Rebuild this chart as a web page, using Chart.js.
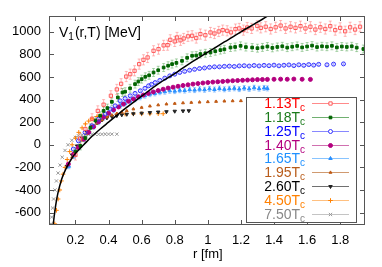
<!DOCTYPE html>
<html>
<head>
<meta charset="utf-8">
<script src="https://cdn.jsdelivr.net/npm/chart.js@4.4.0/dist/chart.umd.min.js"></script>
<style>
  html, body { margin: 0; padding: 0; background: #fff; }
</style>
</head>
<body>
<canvas id="chart" width="382" height="267"></canvas>
<script>
/* ================= DATA ================= */
const xTicks = [0.2, 0.4, 0.6, 0.8, 1.0, 1.2, 1.4, 1.6, 1.8];
const yTicks = [-600, -400, -200, 0, 200, 400, 600, 800, 1000];
const temps = ['1.13', '1.18', '1.25', '1.40', '1.65', '1.95', '2.60', '4.50', '7.50'];

const r113 = [0.20,0.228,0.26,0.30,0.335,0.37,0.414,0.45,0.476,0.507,0.531,0.557,0.585,0.611,0.636,0.672,0.702,0.733,0.757,0.773,0.80,0.814,0.835,0.854,0.88,0.905,0.93,0.955,0.985,1.016,1.04,1.066,1.09,1.117,1.14,1.167,1.19,1.215,1.238,1.265,1.299,1.32,1.35,1.38,1.41,1.44,1.47,1.50,1.53,1.56,1.59,1.62,1.65,1.68,1.71,1.74,1.77,1.80,1.83,1.86,1.89,1.92];
const v113 = [-90,55,140,230,300,355,434,490,540,604,625,655,714,752,773,832,847,880,882,929,915,950,925,941,960,965,945,980,970,994,985,1003,1015,1009,995,1024,1030,1015,1038,1030,1053,1035,1045,1025,1040,1055,1030,1045,1035,1050,1030,1045,1020,1040,1025,1050,1015,1035,1005,1040,1020,1045];

const r118 = [0.20,0.23,0.26,0.29,0.32,0.349,0.37,0.393,0.42,0.456,0.484,0.50,0.53,0.56,0.58,0.60,0.622,0.645,0.672,0.70,0.733,0.76,0.784,0.81,0.844,0.875,0.905,0.93,0.955,0.985,1.016,1.045,1.076,1.10,1.137,1.165,1.198,1.23,1.268,1.30,1.33,1.36,1.39,1.42,1.45,1.48,1.51,1.54,1.57,1.60,1.63,1.66,1.69,1.72,1.75,1.78,1.81,1.84,1.87,1.90,1.94];
const v118 = [-60,-10,60,150,215,257,300,325,380,419,463,470,500,537,560,581,602,615,640,660,684,700,714,725,743,770,788,790,803,810,817,828,838,845,861,866,876,865,861,855,862,870,858,866,872,860,868,875,862,870,878,865,872,868,876,862,870,866,872,860,848];

const r125 = [0.187,0.218,0.258,0.299,0.339,0.379,0.41,0.44,0.47,0.50,0.531,0.56,0.592,0.62,0.642,0.66,0.682,0.71,0.74,0.77,0.80,0.83,0.86,0.89,0.92,0.95,0.98,1.01,1.04,1.07,1.10,1.13,1.16,1.19,1.22,1.25,1.28,1.31,1.34,1.37,1.40,1.43,1.46,1.49,1.52,1.55,1.58,1.61,1.64,1.67,1.72,1.76,1.82];
const v125 = [-38,35,109,168,227,272,316,345,389,410,434,455,478,500,522,535,551,570,590,610,625,640,650,660,668,675,680,686,690,690,694,696,693,698,700,697,702,698,703,700,705,699,704,707,701,708,703,710,705,712,708,714,716];

const r140 = [0.157,0.19,0.218,0.25,0.28,0.31,0.34,0.37,0.40,0.43,0.46,0.49,0.52,0.55,0.58,0.61,0.64,0.67,0.70,0.73,0.76,0.79,0.82,0.85,0.88,0.91,0.94,0.97,1.00,1.03,1.06,1.09,1.12,1.15,1.18,1.21,1.24,1.27,1.30,1.33,1.36,1.40,1.44,1.48,1.52,1.57,1.62];
const v140 = [-171,-80,-24,50,110,160,205,245,280,310,335,360,385,405,425,440,455,468,480,492,502,510,518,525,531,537,542,547,551,555,558,561,564,567,569,571,573,575,577,578,579,580,581,580,582,580,579];

const r165 = [0.16,0.19,0.22,0.25,0.28,0.31,0.34,0.37,0.40,0.43,0.47,0.50,0.53,0.56,0.59,0.62,0.65,0.68,0.71,0.74,0.77,0.80,0.83,0.86,0.89,0.92,0.95,0.98,1.01,1.04,1.07,1.10,1.13,1.16,1.19,1.22,1.25,1.28,1.31,1.34,1.36];
const v165 = [-190,-100,-20,50,110,160,200,240,275,305,345,365,385,403,420,435,448,455,465,470,478,475,483,480,488,484,492,487,495,489,498,491,496,500,493,502,495,505,497,503,499];

const r195 = [0.18,0.21,0.24,0.27,0.30,0.33,0.36,0.39,0.42,0.45,0.48,0.51,0.55,0.60,0.65,0.70,0.75,0.80,0.85,0.90,0.95,1.00,1.05,1.10,1.15,1.20];
const v195 = [-110,-30,40,100,150,190,220,245,262,276,288,300,316,330,342,352,360,365,370,374,377,380,383,386,388,389];

const r260 = [0.15,0.18,0.21,0.24,0.27,0.30,0.33,0.36,0.39,0.42,0.45,0.48,0.51,0.55,0.60,0.65,0.70,0.75,0.80,0.85,0.885];
const v260 = [-190,-90,-10,60,115,160,195,220,238,250,258,265,270,275,280,285,290,293,297,300,301];

const r450 = [0.075,0.085,0.095,0.105,0.115,0.125,0.137,0.15,0.165,0.18,0.20,0.22,0.24,0.26,0.28,0.30,0.33,0.36,0.40,0.45,0.50,0.55,0.60,0.65,0.70,0.73];
const v450 = [-700,-580,-480,-400,-320,-260,-200,-130,-60,0,60,110,150,185,210,230,250,260,266,270,272,273,274,274,275,275];

const r750 = [0.052,0.056,0.062,0.068,0.076,0.085,0.095,0.107,0.12,0.137,0.155,0.178,0.20,0.218,0.24,0.26,0.28,0.30,0.32,0.34,0.36,0.38,0.40,0.42,0.45];
const v750 = [-700,-640,-560,-480,-400,-320,-250,-180,-110,-50,0,40,65,80,88,90,92,92,93,93,93,94,94,94,94];

// T=0 Cornell curve (black line)
const rFit = [0.062,0.07,0.08,0.09,0.10,0.12,0.14,0.16,0.18,0.20,0.25,0.30,0.35,0.40,0.50,0.60,0.70,0.80,0.90,1.00,1.10,1.20,1.30,1.40];
const vFit = [-750,-650,-540,-455,-390,-290,-220,-165,-115,-75,0,75,140,200,320,430,540,630,730,820,910,1000,1085,1175];

// error bar half-widths per series (MeV)
const errs = [45, 35, 10, 5, 22, 5, 0, 0, 0];

/* ================= STYLE ================= */
const FONT = '"Liberation Sans", Arial, Helvetica, sans-serif';
const seriesStyle = [
  { r: r113, v: v113, color: '#ff5a5a', fill: false, shape: 'rect', rad: 2.3, text: '#ff0000', line: '#ff8a8a', errColor: 'rgba(255,120,120,0.5)' },
  { r: r118, v: v118, color: '#006400', fill: true, shape: 'rect', rad: 1.9, text: '#1a7a1a', line: '#70b070', errColor: 'rgba(70,160,70,0.45)' },
  { r: r125, v: v125, color: '#3535ff', fill: false, shape: 'circle', rad: 2, text: '#0000ff', line: '#8888ff', errColor: 'rgba(80,80,255,0.35)' },
  { r: r140, v: v140, color: '#b4007f', fill: true, shape: 'circle', rad: 2, text: '#b4007f', line: '#d070b0', errColor: 'rgba(180,0,127,0.35)' },
  { r: r165, v: v165, color: '#2a90ff', fill: true, shape: 'triangle', rad: 2, text: '#1e90ff', line: '#88c4ff', errColor: 'rgba(60,150,255,0.5)' },
  { r: r195, v: v195, color: '#c05a14', fill: true, shape: 'triangle', rad: 1.6, text: '#b85c1a', line: '#d09a70', errColor: 'rgba(192,90,20,0.35)' },
  { r: r260, v: v260, color: '#222222', fill: true, shape: 'triangle', rot: 180, rad: 2, text: '#000000', line: '#707070', errColor: '#888' },
  { r: r450, v: v450, color: '#ff8000', fill: false, shape: 'cross', rad: 2.3, text: '#ff8000', line: '#ffc080', errColor: '#fc8' },
  { r: r750, v: v750, color: '#999999', fill: false, shape: 'crossRot', rad: 2.3, text: '#888888', line: '#c4c4c4', errColor: '#ccc' }
];

const pts = (rs, vs) => rs.map((x, i) => ({ x, y: vs[i] }));

const datasets = [{
  label: 'T=0',
  data: pts(rFit, vFit),
  showLine: true,
  borderColor: '#000',
  borderWidth: 1.5,
  pointRadius: 0,
  tension: 0.3,
  order: 0
}];
seriesStyle.forEach((s, i) => {
  datasets.push({
    label: temps[i] + 'Tc',
    data: pts(s.r, s.v),
    showLine: false,
    pointStyle: s.shape,
    pointRotation: s.rot || 0,
    pointRadius: s.rad,
    borderWidth: 1,
    borderColor: s.color,
    backgroundColor: s.fill ? s.color : 'rgba(0,0,0,0)',
    err: errs[i],
    errColor: s.errColor,
    order: 1
  });
});

/* ================= PLUGINS ================= */
const errorBars = {
  id: 'errorBars',
  beforeDatasetsDraw(chart) {
    const { ctx, chartArea: a, scales: { y } } = chart;
    ctx.save();
    ctx.beginPath();
    ctx.rect(a.left, a.top, a.right - a.left, a.bottom - a.top);
    ctx.clip();
    chart.data.datasets.forEach((ds, i) => {
      if (!ds.err) return;
      const meta = chart.getDatasetMeta(i);
      ctx.strokeStyle = ds.errColor;
      ctx.lineWidth = 1;
      meta.data.forEach((pt, j) => {
        const v = ds.data[j].y;
        const y1 = y.getPixelForValue(v - ds.err);
        const y2 = y.getPixelForValue(v + ds.err);
        ctx.beginPath();
        ctx.moveTo(pt.x, y1); ctx.lineTo(pt.x, y2);
        ctx.moveTo(pt.x - 1.5, y1); ctx.lineTo(pt.x + 1.5, y1);
        ctx.moveTo(pt.x - 1.5, y2); ctx.lineTo(pt.x + 1.5, y2);
        ctx.stroke();
      });
    });
    ctx.restore();
  }
};

const decor = {
  id: 'decor',
  afterDraw(chart) {
    const { ctx, chartArea: a, scales: { x, y } } = chart;
    ctx.save();

    // frame + inward ticks on all sides
    ctx.strokeStyle = '#555';
    ctx.lineWidth = 1;
    ctx.strokeRect(a.left + 0.5, a.top + 0.5, a.right - a.left - 1, a.bottom - a.top - 1);
    ctx.beginPath();
    xTicks.forEach(v => {
      const px = Math.round(x.getPixelForValue(v)) + 0.5;
      ctx.moveTo(px, a.bottom); ctx.lineTo(px, a.bottom - 5);
      ctx.moveTo(px, a.top); ctx.lineTo(px, a.top + 5);
    });
    yTicks.forEach(v => {
      const py = Math.round(y.getPixelForValue(v)) + 0.5;
      ctx.moveTo(a.left, py); ctx.lineTo(a.left + 5, py);
      ctx.moveTo(a.right, py); ctx.lineTo(a.right - 5, py);
    });
    ctx.stroke();

    // title inside the plot: V_1(r,T) [MeV]
    ctx.fillStyle = '#000';
    ctx.textBaseline = 'alphabetic';
    ctx.textAlign = 'left';
    let tx = a.left + 10;
    const ty = a.top + 21;
    ctx.font = '14px ' + FONT;
    ctx.fillText('V', tx, ty);
    tx += ctx.measureText('V').width;
    ctx.font = '10px ' + FONT;
    ctx.fillText('1', tx, ty + 3);
    tx += ctx.measureText('1').width + 1;
    ctx.font = '14px ' + FONT;
    ctx.fillText('(r,T) [MeV]', tx, ty);

    // x axis title
    ctx.font = '13px ' + FONT;
    ctx.textAlign = 'center';
    ctx.fillText('r [fm]', x.getPixelForValue(1.0), 258);

    // legend box
    const bx = 246, by = 97, bw = 110, bh = 125;
    ctx.fillStyle = '#fff';
    ctx.fillRect(bx, by, bw, bh);
    ctx.strokeStyle = '#555';
    ctx.strokeRect(bx + 0.5, by + 0.5, bw, bh);
    seriesStyle.forEach((s, i) => {
      const cy = 103 + i * 13.85;
      ctx.font = '14px ' + FONT;
      ctx.textAlign = 'right';
      ctx.fillStyle = s.text;
      ctx.fillText(temps[i] + 'T', 300, cy + 5);
      ctx.font = '10px ' + FONT;
      ctx.textAlign = 'left';
      ctx.fillText('c', 300, cy + 8);
      ctx.strokeStyle = s.line;
      ctx.lineWidth = 1;
      ctx.beginPath();
      ctx.moveTo(312, Math.round(cy) + 0.5);
      ctx.lineTo(349, Math.round(cy) + 0.5);
      ctx.stroke();
      ctx.strokeStyle = s.color;
      ctx.fillStyle = s.fill ? s.color : '#fff';
      Chart.helpers.drawPoint(ctx, {
        pointStyle: s.shape, rotation: s.rot || 0, radius: s.rad, borderWidth: 1
      }, 330.5, Math.round(cy) + 0.5);
    });
    ctx.restore();
  }
};

/* ================= CHART ================= */
const tickFmt = v => String(Math.round(v * 10) / 10);

new Chart(document.getElementById('chart').getContext('2d'), {
  type: 'scatter',
  data: { datasets },
  options: {
    responsive: false,
    animation: false,
    devicePixelRatio: 1,
    layout: { padding: { top: 16, right: 17, left: 0, bottom: 0 } },
    plugins: { legend: { display: false }, tooltip: { enabled: false } },
    scales: {
      x: {
        type: 'linear',
        min: 0.04,
        max: 1.95,
        grid: { display: false, drawTicks: false },
        border: { display: false },
        afterBuildTicks: s => { s.ticks = xTicks.map(v => ({ value: v })); },
        afterFit: s => { s.height = 42; },
        ticks: { color: '#000', padding: 8, maxRotation: 0, font: { family: FONT, size: 13 }, callback: tickFmt }
      },
      y: {
        type: 'linear',
        min: -710,
        max: 1140,
        grid: { display: false, drawTicks: false },
        border: { display: false },
        afterBuildTicks: s => { s.ticks = yTicks.map(v => ({ value: v })); },
        afterFit: s => { s.width = 49; },
        ticks: { color: '#000', padding: 8, font: { family: FONT, size: 13 }, callback: tickFmt }
      }
    }
  },
  plugins: [errorBars, decor]
});
</script>
</body>
</html>
